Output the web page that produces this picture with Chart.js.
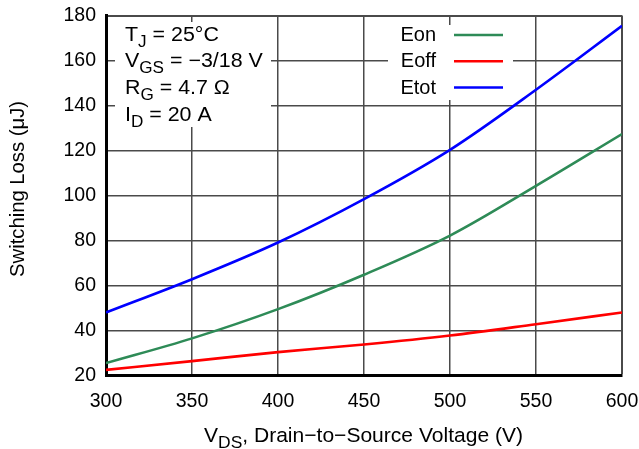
<!DOCTYPE html>
<html>
<head>
<meta charset="utf-8">
<script src="https://cdn.jsdelivr.net/npm/chart.js@4"></script>
<style>
  html, body { margin: 0; padding: 0; background: #fff; }
  #wrap { width: 639px; height: 449px; position: relative; }
</style>
</head>
<body>
<div id="wrap"><canvas id="chart"></canvas></div>
<script>
// values
const vds = [300, 350, 400, 450, 500, 550, 600];
const eon = [25.5, 36.5, 49.5, 64.8, 82.2, 104.3, 127.3];
const eoff = [22.5, 26.4, 30.4, 33.8, 37.8, 42.8, 48];
const etot = [48, 62.8, 79.1, 98.4, 120.3, 147, 175.4];
const xTicks = [300, 350, 400, 450, 500, 550, 600];
const yTicks = [20, 40, 60, 80, 100, 120, 140, 160, 180];

const FONT = '"Liberation Sans", Arial, Helvetica, sans-serif';
const GRID = '#4a4a4a';

// text runs with subscripts, left aligned at x on baseline y, stretched by sx
function richWidth(ctx, parts, size, subSize) {
  let w = 0;
  parts.forEach(p => {
    ctx.font = (p.sub ? subSize : size) + 'px ' + FONT;
    w += ctx.measureText(p.t).width;
  });
  return w;
}
function drawRich(ctx, parts, x, y, size, subSize, sx) {
  ctx.save();
  ctx.translate(x, y);
  ctx.scale(sx, 1);
  ctx.textBaseline = 'alphabetic';
  ctx.textAlign = 'left';
  let cx = 0;
  parts.forEach(p => {
    ctx.font = (p.sub ? subSize : size) + 'px ' + FONT;
    ctx.fillText(p.t, cx, p.sub ? 6 : 0);
    cx += ctx.measureText(p.t).width;
  });
  ctx.restore();
}

const conditions = [
  [{ t: 'T' }, { t: 'J', sub: true }, { t: ' = 25°C' }],
  [{ t: 'V' }, { t: 'GS', sub: true }, { t: ' = −3/18 V' }],
  [{ t: 'R' }, { t: 'G', sub: true }, { t: ' = 4.7 Ω' }],
  [{ t: 'I' }, { t: 'D', sub: true }, { t: ' = 20 A' }]
];
const xTitle = [{ t: 'V' }, { t: 'DS', sub: true }, { t: ', Drain−to−Source Voltage (V)' }];
const yTitle = 'Switching Loss (μJ)';

const overlay = {
  id: 'overlay',
  beforeDatasetsDraw(chart) {
    const ctx = chart.ctx;
    ctx.save();
    ctx.fillStyle = '#fff';
    ctx.fillRect(115, 22, 156, 105);   // conditions box
    ctx.fillRect(388, 25, 125, 75);    // legend box
    ctx.restore();
  },
  afterDraw(chart) {
    const ctx = chart.ctx;
    ctx.save();
    ctx.fillStyle = '#000';
    const base = [41, 67, 94, 120.5];
    conditions.forEach((c, i) => drawRich(ctx, c, 125, base[i], 20, 16, 1.07));

    // legend: label text on the left, sample line on the right
    const lb = [41, 67.3, 93.5];
    chart.data.datasets.forEach((ds, i) => {
      ctx.font = '20px ' + FONT;
      ctx.textAlign = 'right';
      ctx.textBaseline = 'alphabetic';
      ctx.fillStyle = '#000';
      ctx.fillText(ds.label, 436, lb[i]);
      ctx.strokeStyle = ds.borderColor;
      ctx.lineWidth = 2.6;
      ctx.beginPath();
      ctx.moveTo(454, lb[i] - 6);
      ctx.lineTo(503, lb[i] - 6);
      ctx.stroke();
    });

    // x axis title, fitted to the width it has in the figure (204..523)
    const w = richWidth(ctx, xTitle, 20.5, 17);
    ctx.fillStyle = '#000';
    drawRich(ctx, xTitle, 204, 442, 20.5, 17, 319 / w);

    // y axis title, fitted to 176 px
    ctx.translate(18.5, 189);
    ctx.rotate(-Math.PI / 2);
    ctx.font = '20px ' + FONT;
    const wy = ctx.measureText(yTitle).width;
    ctx.scale(176 / wy, 1);
    ctx.textAlign = 'center';
    ctx.textBaseline = 'middle';
    ctx.fillText(yTitle, 0, 0);
    ctx.restore();
  }
};

new Chart(document.getElementById('chart'), {
  type: 'line',
  data: {
    labels: vds,
    datasets: [
      { label: 'Eon', data: eon, borderColor: '#2e8b57' },
      { label: 'Eoff', data: eoff, borderColor: '#ff0000' },
      { label: 'Etot', data: etot, borderColor: '#0000ff' }
    ]
  },
  options: {
    responsive: true,
    maintainAspectRatio: false,
    animation: false,
    devicePixelRatio: 1,
    layout: { padding: { left: 0, right: 17, top: 15.5, bottom: 0 } },
    elements: {
      line: { borderWidth: 2.6, tension: 0.4, cubicInterpolationMode: 'monotone', fill: false },
      point: { radius: 0 }
    },
    plugins: {
      legend: { display: false },
      tooltip: { enabled: false }
    },
    scales: {
      x: {
        type: 'linear',
        min: 300,
        max: 600,
        afterBuildTicks: s => { s.ticks = xTicks.map(v => ({ value: v })); },
        afterFit: s => { s.height = 73.5; s.paddingLeft = 0; s.paddingRight = 0; },
        grid: {
          drawTicks: false,
          color: GRID,
          lineWidth: c => (c.tick && c.tick.value === 600 ? 2 : 1.5)
        },
        border: { color: '#000', width: 3 },
        ticks: { color: '#000', padding: 14, maxRotation: 0, font: { family: FONT, size: 19.5 } }
      },
      y: {
        min: 20,
        max: 180,
        afterBuildTicks: s => { s.ticks = yTicks.map(v => ({ value: v })); },
        afterFit: s => { s.width = 106; s.paddingTop = 0; s.paddingBottom = 0; },
        grid: {
          drawTicks: false,
          color: GRID,
          lineWidth: c => (c.tick && c.tick.value === 180 ? 2 : 1.5)
        },
        border: { color: '#000', width: 3 },
        ticks: { color: '#000', padding: 10, font: { family: FONT, size: 19.5 } }
      }
    }
  },
  plugins: [overlay]
});
</script>
</body>
</html>
